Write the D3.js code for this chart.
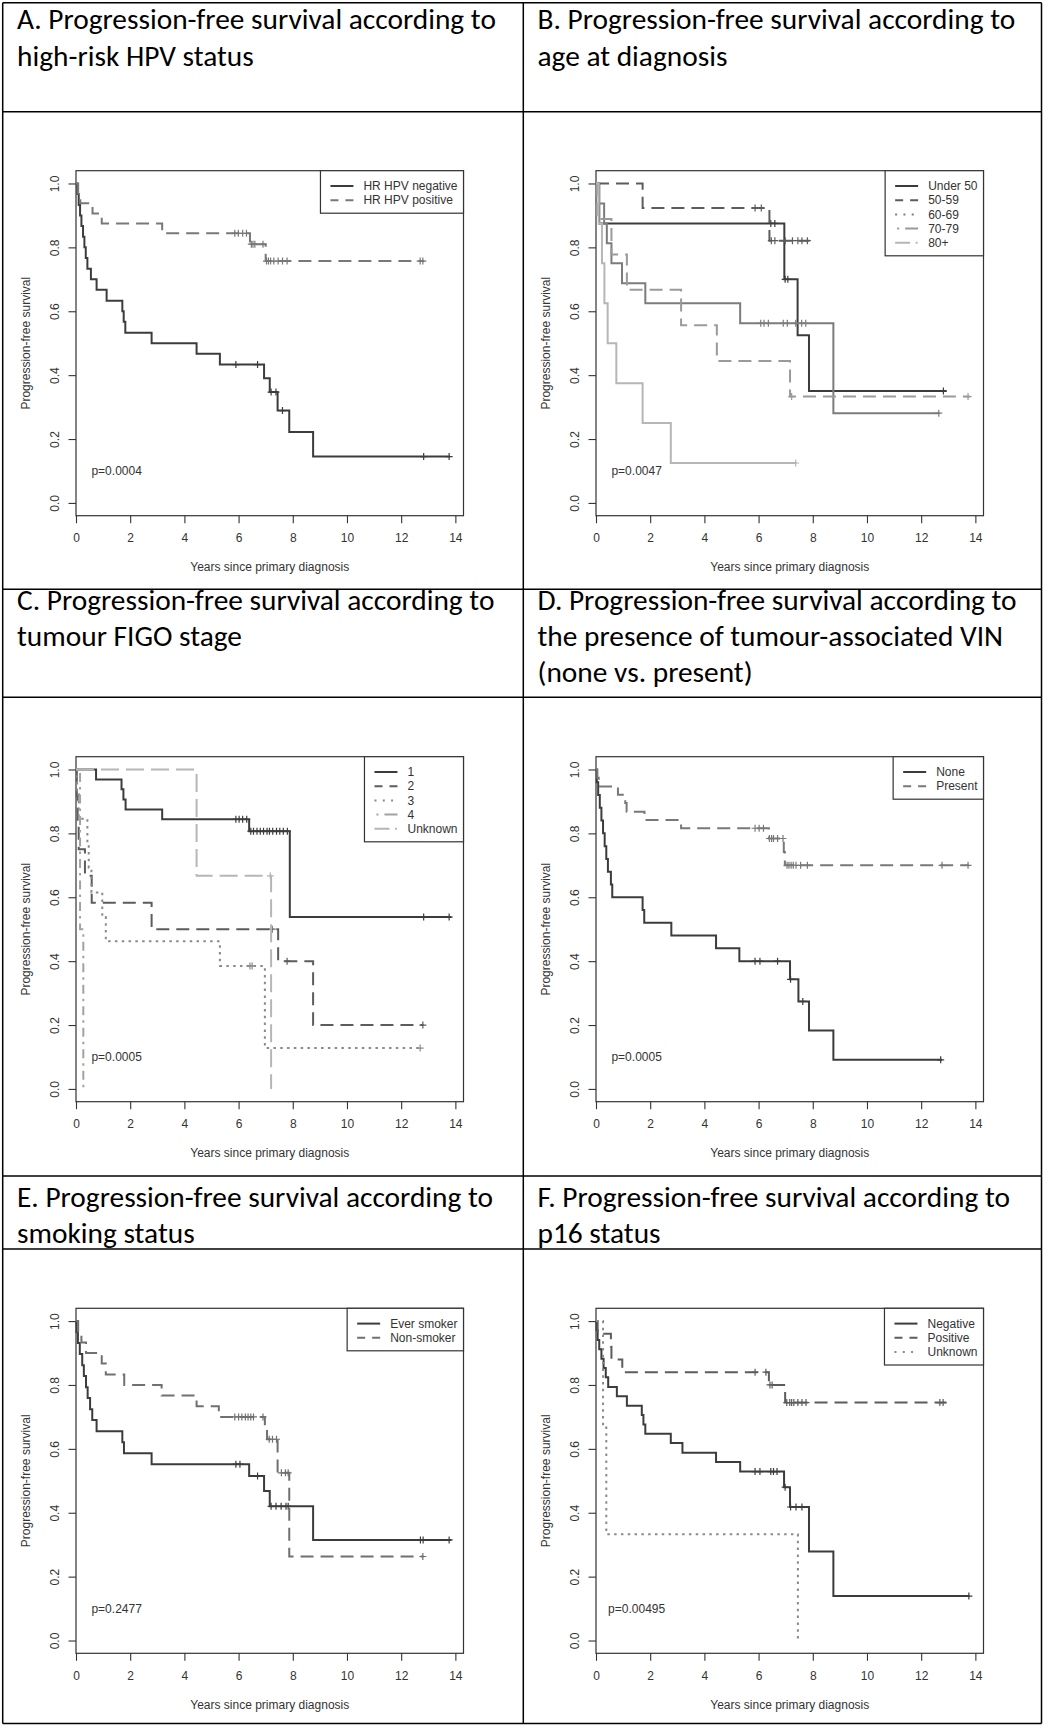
<!DOCTYPE html>
<html><head><meta charset="utf-8">
<script src="https://cdn.jsdelivr.net/npm/d3@7"></script>
<style>
html,body{margin:0;padding:0;background:#fff;}
svg{display:block;}
</style></head><body>
<svg id="chart" width="1044" height="1726"></svg>
<script>
// ================= DATA =================
const xTicks = [0, 2, 4, 6, 8, 10, 12, 14];
const yTicks = [0, 0.2, 0.4, 0.6, 0.8, 1.0];
const xTitle = "Years since primary diagnosis";
const yTitle = "Progression-free survival";

const panelTitles = [
  ["A. Progression-free survival according to", "high-risk HPV status"],
  ["B. Progression-free survival according to", "age at diagnosis"],
  ["C. Progression-free survival according to", "tumour FIGO stage"],
  ["D. Progression-free survival according to", "the presence of tumour-associated VIN", "(none vs. present)"],
  ["E. Progression-free survival according to", "smoking status"],
  ["F. Progression-free survival according to", "p16 status"]
];
const pValues = ["p=0.0004", "p=0.0047", "p=0.0005", "p=0.0005", "p=0.2477", "p=0.00495"];
const pLabelPos = [1.5, 0.1]; // [years, survival]

const legendA = ["HR HPV negative", "HR HPV positive"];
const legendB = ["Under 50", "50-59", "60-69", "70-79", "80+"];
const legendC = ["1", "2", "3", "4", "Unknown"];
const legendD = ["None", "Present"];
const legendE = ["Ever smoker", "Non-smoker"];
const legendF = ["Negative", "Positive", "Unknown"];

// Kaplan-Meier steps: [time (years), survival from that time on]; end = last follow-up; censor = censoring times
// --- A ---
const aNegSteps = [[0,1],[0.05,0.967],[0.1,0.933],[0.15,0.9],[0.2,0.867],[0.26,0.833],[0.31,0.8],[0.36,0.767],[0.42,0.733],[0.55,0.7],[0.76,0.667],[1.13,0.633],[1.71,0.6],[1.76,0.567],[1.82,0.533],[2.79,0.5],[4.45,0.467],[5.31,0.433],[6.94,0.39],[7.15,0.347],[7.44,0.289],[7.87,0.222],[8.75,0.145]];
const aNegEnd = 13.79;
const aNegCensor = [5.9, 6.7, 7.2, 7.38, 7.62, 12.83, 13.77];
const aPosSteps = [[0,1],[0.08,0.969],[0.16,0.938],[0.61,0.906],[0.95,0.875],[3.18,0.844],[6.42,0.81],[7.0,0.757]];
const aPosEnd = 12.85;
const aPosCensor = [5.86, 5.99, 6.15, 6.29, 6.47, 6.53, 6.6, 6.9, 7.03, 7.1, 7.18, 7.3, 7.46, 7.62, 7.79, 12.7, 12.8];
// --- B ---
const bU50Steps = [[0,1],[0.12,0.875],[6.95,0.7],[7.44,0.525],[7.86,0.35]];
const bU50End = 12.93;
const bU50Censor = [6.45, 6.6, 6.98, 7.08, 12.82];
const b5059Steps = [[0,1],[1.72,0.923],[6.4,0.821]];
const b5059End = 7.88;
const b5059Censor = [5.87, 6.1, 6.47, 6.6, 6.98, 7.25, 7.45, 7.6, 7.8];
const b6069Steps = [[0,1],[0.1,0.9375],[0.3,0.875],[0.4,0.8125],[0.57,0.75],[0.96,0.6875],[1.82,0.625],[5.32,0.5625],[8.76,0.281]];
const b6069End = 12.68;
const b6069Censor = [6.08, 6.2, 6.36, 6.91, 7.06, 7.37, 7.59, 7.74, 12.65];
const b7079Steps = [[0,1],[0.03,0.889],[0.57,0.778],[1.14,0.667],[3.14,0.556],[4.46,0.444],[7.16,0.333]];
const b7079End = 13.8;
const b7079Censor = [7.22, 13.73];
const b80Steps = [[0,1],[0.1,0.875],[0.22,0.75],[0.31,0.625],[0.43,0.5],[0.75,0.375],[1.72,0.25],[2.76,0.125]];
const b80End = 7.4;
const b80Censor = [7.37];
// --- C ---
const c1Steps = [[0,1],[0.74,0.969],[1.68,0.938],[1.75,0.906],[1.83,0.875],[3.18,0.844],[6.39,0.807],[7.89,0.538]];
const c1End = 13.85;
const c1Censor = [5.9, 6.02, 6.15, 6.3, 6.45, 6.55, 6.68, 6.8, 6.92, 7.05, 7.14, 7.26, 7.4, 7.52, 7.65, 7.8, 12.83, 13.77];
const c2Steps = [[0,1],[0.03,0.917],[0.06,0.833],[0.1,0.75],[0.33,0.667],[0.58,0.583],[2.79,0.5],[7.46,0.4],[8.75,0.2]];
const c2End = 12.82;
const c2Censor = [7.24, 7.79, 12.8];
const c3Steps = [[0,1],[0.04,0.923],[0.1,0.846],[0.42,0.769],[0.47,0.692],[0.57,0.615],[0.97,0.538],[1.1,0.462],[5.31,0.385],[6.97,0.128]];
const c3End = 12.72;
const c3Censor = [6.42, 6.5, 12.7];
const c4Steps = [[0,1],[0.15,0.5],[0.27,0]];
const c4End = 0.27;
const c4Censor = [];
const cUnkSteps = [[0,1],[4.45,0.667],[7.2,0]];
const cUnkEnd = 7.2;
const cUnkCensor = [7.17];
// --- D ---
const dNoneSteps = [[0,1],[0.03,0.96],[0.08,0.92],[0.14,0.88],[0.2,0.84],[0.26,0.8],[0.32,0.76],[0.38,0.72],[0.44,0.68],[0.55,0.64],[0.6,0.6],[1.72,0.56],[1.78,0.52],[2.78,0.48],[4.43,0.44],[5.29,0.4],[7.16,0.343],[7.47,0.274],[7.86,0.183],[8.76,0.091]];
const dNoneEnd = 12.77;
const dNoneCensor = [5.87, 6.05, 6.7, 7.18, 7.63, 12.72];
const dPresSteps = [[0,1],[0.05,0.974],[0.1,0.947],[0.81,0.921],[1.08,0.895],[1.13,0.868],[1.79,0.842],[3.14,0.816],[6.38,0.784],[6.93,0.742],[6.97,0.7]];
const dPresEnd = 13.75;
const dPresCensor = [5.87, 6.02, 6.18, 6.4, 6.48, 6.55, 6.7, 6.9, 7.05, 7.12, 7.2, 7.28, 7.38, 7.55, 7.8, 12.77, 13.73];
// --- E ---
const eEverSteps = [[0,1],[0.02,0.966],[0.07,0.931],[0.14,0.897],[0.23,0.862],[0.29,0.828],[0.37,0.793],[0.43,0.759],[0.52,0.724],[0.6,0.69],[0.76,0.655],[1.71,0.621],[1.77,0.586],[2.79,0.552],[6.39,0.515],[6.94,0.468],[7.15,0.42],[8.75,0.315]];
const eEverEnd = 13.85;
const eEverCensor = [5.9, 6.05, 6.7, 7.2, 7.38, 7.57, 7.75, 7.83, 12.71, 12.81, 13.77];
const eNonSteps = [[0,1],[0.08,0.967],[0.2,0.933],[0.37,0.9],[0.95,0.867],[1.1,0.833],[1.78,0.8],[3.16,0.767],[4.45,0.733],[5.27,0.7],[6.97,0.665],[7.05,0.63],[7.44,0.525],[7.87,0.263]];
const eNonEnd = 12.82;
const eNonCensor = [5.86, 6.0, 6.12, 6.25, 6.35, 6.45, 6.55, 6.9, 7.13, 7.25, 7.4, 7.58, 7.73, 7.83, 12.8];
// --- F ---
const fNegSteps = [[0,1],[0.02,0.971],[0.06,0.941],[0.12,0.912],[0.2,0.882],[0.28,0.853],[0.36,0.824],[0.45,0.794],[0.77,0.765],[1.14,0.735],[1.69,0.706],[1.75,0.676],[1.82,0.647],[2.76,0.618],[3.19,0.588],[4.43,0.559],[5.32,0.529],[6.94,0.48],[7.16,0.418],[7.86,0.279],[8.76,0.139]];
const fNegEnd = 13.79;
const fNegCensor = [5.87, 6.05, 6.45, 6.55, 6.68, 6.98, 7.18, 7.38, 7.6, 13.76];
const fPosSteps = [[0,1],[0.06,0.96],[0.55,0.92],[0.57,0.88],[0.97,0.84],[6.38,0.8],[6.98,0.745]];
const fPosEnd = 12.93;
const fPosCensor = [5.87, 6.27, 6.42, 6.5, 7.04, 7.15, 7.22, 7.3, 7.45, 7.6, 7.75, 12.69, 12.81];
const fUnkSteps = [[0,1],[0.26,0.667],[0.38,0.333],[7.45,0]];
const fUnkEnd = 7.45;
const fUnkCensor = [];

// ================= STYLES =================
const colorsA = ["#3c3c3c", "#787878"];
const colorsB = ["#3c3c3c", "#5c5c5c", "#7c7c7c", "#9a9a9a", "#b6b6b6"];
const colorsC = ["#3c3c3c", "#5c5c5c", "#8a8a8a", "#a2a2a2", "#b6b6b6"];
const colorsD = ["#3c3c3c", "#787878"];
const colorsE = ["#3c3c3c", "#707070"];
const colorsF = ["#3c3c3c", "#5c5c5c", "#8a8a8a"];
const plotLtyA = ["solid", "dashed"];
const plotLtyB = ["solid", "dashed", "solid", "dashed", "solid"];
const plotLtyC = ["solid", "dashed", "dotted", "dotdash", "longdash"];
const plotLtyF = ["solid", "dashed", "dotted"];
const legendLtyB = ["solid", "dashed", "dotted", "dotdash", "longdash"];
const plotDash = {solid: null, dashed: "13,7", dotted: "2.5,4.3", dotdash: "2.5,5,9,5", longdash: "18,7"};
const legendDash = {solid: null, dashed: "8,7", dotted: "2,6.3", dotdash: "0,2,2,6,15,6", longdash: "15,5.5,2,5"};

const axisFont = "'Liberation Sans', Arial, Helvetica, sans-serif";
const titleFont = "Carlito, Calibri, Lato, 'Open Sans', sans-serif";
const inkColor = "#333";

// ================= LAYOUT =================
const W = 1044, H = 1726;
const tableLeft = 2.7, tableRight = 1041.5, tableTop = 2.7, tableBottom = 1723.5, colSplit = 523.3;
const rowLines = [2.7, 111.7, 589.3, 697.3, 1176, 1249, 1723.5];
const titleX = [17, 537.5];
const titleFirstBaseline = [28.5, 609.5, 1207];
const titleLineGap = 31.5;
const frameLefts = [76, 596];
const frameTops = [170.7, 756.7, 1308.3];
const frameW = 387.5, frameH = 345;
const xDomain = [0, 14.3], yDomain = [-0.04, 1.04];

const panels = [
  {col: 0, row: 0, legend: legendA, colors: colorsA, lty: plotLtyA, legendLty: plotLtyA,
   series: [[aNegSteps, aNegEnd, aNegCensor], [aPosSteps, aPosEnd, aPosCensor]]},
  {col: 1, row: 0, legend: legendB, colors: colorsB, lty: plotLtyB, legendLty: legendLtyB,
   series: [[bU50Steps, bU50End, bU50Censor], [b5059Steps, b5059End, b5059Censor], [b6069Steps, b6069End, b6069Censor], [b7079Steps, b7079End, b7079Censor], [b80Steps, b80End, b80Censor]]},
  {col: 0, row: 1, legend: legendC, colors: colorsC, lty: plotLtyC, legendLty: plotLtyC,
   series: [[c1Steps, c1End, c1Censor], [c2Steps, c2End, c2Censor], [c3Steps, c3End, c3Censor], [c4Steps, c4End, c4Censor], [cUnkSteps, cUnkEnd, cUnkCensor]]},
  {col: 1, row: 1, legend: legendD, colors: colorsD, lty: plotLtyA, legendLty: plotLtyA,
   series: [[dNoneSteps, dNoneEnd, dNoneCensor], [dPresSteps, dPresEnd, dPresCensor]]},
  {col: 0, row: 2, legend: legendE, colors: colorsE, lty: plotLtyA, legendLty: plotLtyA,
   series: [[eEverSteps, eEverEnd, eEverCensor], [eNonSteps, eNonEnd, eNonCensor]]},
  {col: 1, row: 2, legend: legendF, colors: colorsF, lty: plotLtyF, legendLty: plotLtyF,
   series: [[fNegSteps, fNegEnd, fNegCensor], [fPosSteps, fPosEnd, fPosCensor], [fUnkSteps, fUnkEnd, fUnkCensor]]}
];

// ================= DRAW =================
const svg = d3.select("#chart");
svg.append("rect").attr("width", W).attr("height", H).attr("fill", "#fff");

// title font size fitted to measured line width; line gap kept clear of the font's box height
const probe = svg.append("text").attr("font-family", titleFont).attr("font-size", 100).attr("y", 0).text(panelTitles[0][0]);
const probeW = probe.node().getComputedTextLength();
const probeBox = probe.node().getBBox();
probe.remove();
const titleSize = 100 * 479 / probeW;
const titleAscent = -probeBox.y / 100 * titleSize;
const lineGap = Math.max(titleLineGap, probeBox.height / 100 * titleSize + 0.6);

function survAt(steps, t) {
  let v = steps[0][1];
  for (const s of steps) if (s[0] <= t) v = s[1];
  return v;
}

panels.forEach((p, i) => {
  const fl = frameLefts[p.col], ft = frameTops[p.row];
  const x = d3.scaleLinear().domain(xDomain).range([fl, fl + frameW]);
  const y = d3.scaleLinear().domain(yDomain).range([ft + frameH, ft]);
  const g = svg.append("g").attr("class", "panel");

  // title (one text per line); first line kept inside the picture
  const b0 = Math.max(titleFirstBaseline[p.row], titleAscent + 1.5);
  panelTitles[i].forEach((line, k) => {
    g.append("text").attr("font-family", titleFont).attr("font-size", titleSize).attr("fill", "#000")
      .attr("x", titleX[p.col]).attr("y", b0 + k * lineGap)
      .text(line);
  });

  // frame
  g.append("rect").attr("x", fl).attr("y", ft).attr("width", frameW).attr("height", frameH)
    .attr("fill", "none").attr("stroke", inkColor).attr("stroke-width", 1.2);

  // axes
  const xa = g.append("g").attr("transform", `translate(0,${ft + frameH})`)
    .call(d3.axisBottom(x).tickValues(xTicks).tickSize(7.5).tickSizeOuter(0).tickFormat(d3.format("d")));
  xa.select(".domain").remove();
  xa.selectAll("line").attr("stroke", inkColor).attr("stroke-width", 1.1);
  xa.selectAll("text").attr("y", 22.3).attr("dy", "0.35em").attr("fill", inkColor)
    .attr("font-family", axisFont).attr("font-size", 12);

  const ya = g.append("g").attr("transform", `translate(${fl},0)`)
    .call(d3.axisLeft(y).tickValues(yTicks).tickSize(7.5).tickSizeOuter(0).tickFormat(d3.format(".1f")));
  ya.select(".domain").remove();
  ya.selectAll("line").attr("stroke", inkColor).attr("stroke-width", 1.1);
  ya.selectAll("text").attr("x", null).attr("dy", "0.35em").attr("fill", inkColor)
    .attr("font-family", axisFont).attr("font-size", 12)
    .attr("text-anchor", "middle").attr("transform", "translate(-21.7,0) rotate(-90)");

  g.append("text").attr("x", (fl + fl + frameW) / 2).attr("y", ft + frameH + 51).attr("dy", "0.35em")
    .attr("text-anchor", "middle").attr("font-family", axisFont).attr("font-size", 12).attr("fill", inkColor)
    .text(xTitle);
  g.append("text").attr("transform", `translate(${fl - 50},${ft + frameH / 2}) rotate(-90)`).attr("dy", "0.35em")
    .attr("text-anchor", "middle").attr("font-family", axisFont).attr("font-size", 12).attr("fill", inkColor)
    .text(yTitle);

  // curves
  const line = d3.line().x(d => x(d[0])).y(d => y(d[1])).curve(d3.curveStepAfter);
  p.series.forEach((s, k) => {
    const [steps, end, censor] = s;
    const pts = steps.concat([[end, steps[steps.length - 1][1]]]);
    const col = p.colors[k];
    g.append("path").attr("d", line(pts)).attr("fill", "none").attr("stroke", col)
      .attr("stroke-width", 2).attr("stroke-dasharray", plotDash[p.lty[k]]);
    censor.forEach(t => {
      const cx = x(t), cy = y(survAt(steps, t));
      g.append("path").attr("d", `M${cx - 3.5},${cy}H${cx + 3.5}M${cx},${cy - 3.5}V${cy + 3.5}`)
        .attr("stroke", col).attr("stroke-width", 1.2).attr("fill", "none");
    });
  });

  // p-value
  g.append("text").attr("x", x(pLabelPos[0])).attr("y", y(pLabelPos[1])).attr("dy", "0.35em")
    .attr("text-anchor", "middle").attr("font-family", axisFont).attr("font-size", 12).attr("fill", inkColor)
    .text(pValues[i]);

  // legend
  const lg = g.append("g");
  const texts = p.legend.map((lab, k) => lg.append("text").attr("font-family", axisFont).attr("font-size", 12)
    .attr("fill", inkColor).attr("dy", "0.35em").text(lab));
  const maxW = d3.max(texts, t => t.node().getComputedTextLength());
  const boxW = 49 + maxW, boxH = 15.3 + (p.legend.length - 1) * 14.2 + 13;
  const bx = fl + frameW - boxW, by = ft;
  lg.insert("rect", ":first-child").attr("x", bx).attr("y", by).attr("width", boxW).attr("height", boxH)
    .attr("fill", "#fff").attr("stroke", inkColor).attr("stroke-width", 1.2);
  texts.forEach((t, k) => {
    const ly = by + 15.3 + k * 14.2;
    t.attr("x", bx + 43).attr("y", ly);
    lg.append("line").attr("x1", bx + 10).attr("x2", bx + 33).attr("y1", ly).attr("y2", ly)
      .attr("stroke", p.colors[k]).attr("stroke-width", 2)
      .attr("stroke-dasharray", legendDash[p.legendLty[k]]);
  });
});

// table borders
const tb = svg.append("g").attr("stroke", "#000").attr("stroke-width", 1.5);
rowLines.forEach(yy => tb.append("line").attr("x1", tableLeft).attr("x2", tableRight).attr("y1", yy).attr("y2", yy));
[tableLeft, colSplit, tableRight].forEach(xx => tb.append("line").attr("x1", xx).attr("x2", xx).attr("y1", tableTop).attr("y2", tableBottom));
</script>
</body></html>
